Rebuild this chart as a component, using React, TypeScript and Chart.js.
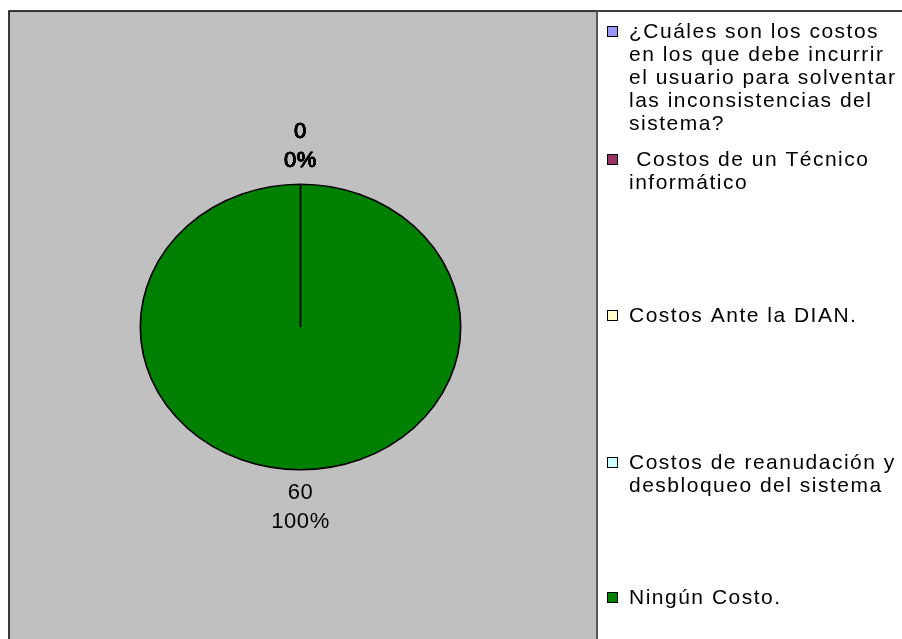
import React, { useEffect, useRef } from "react";
import { Chart, registerables } from "chart.js";

Chart.register(...registerables);

// ---- data ----
const categories: string[][] = [
  ["¿Cuáles son los costos", "en los que debe incurrir", "el usuario para solventar", "las inconsistencias del", "sistema?"],
  [" Costos de un Técnico", "informático"],
  ["Costos Ante la DIAN."],
  ["Costos de reanudación y", "desbloqueo del sistema"],
  ["Ningún Costo."],
];
const values: number[] = [0, 0, 0, 0, 60];
const colors: string[] = ["#9999FF", "#993366", "#FFFFCC", "#CCFFFF", "#008000"];

// ---- layout / style constants ----
const W = 902;
const H = 639;
const FONT = "'Liberation Sans', Arial, sans-serif";
const X_STRETCH = 1.122; // pie drawn as ellipse (wider than tall)
const LEGEND_FIRST_LINE_Y = [31, 159, 315, 462, 597];
const LEGEND_LINE_H = 23;

const framePlugin = {
  id: "frame",
  beforeDraw(chart: any) {
    const ctx = chart.ctx;
    ctx.save();
    ctx.fillStyle = "#ffffff";
    ctx.fillRect(0, 0, W, H);
    ctx.fillStyle = "#C0C0C0";
    ctx.fillRect(9, 11, 588, H);
    ctx.strokeStyle = "#000000";
    ctx.lineWidth = 1.5;
    ctx.beginPath();
    ctx.moveTo(9, H + 2);
    ctx.lineTo(9, 11);
    ctx.lineTo(W + 2, 11);
    ctx.stroke();
    ctx.strokeStyle = "#555555";
    ctx.lineWidth = 2;
    ctx.beginPath();
    ctx.moveTo(597, 11);
    ctx.lineTo(597, H + 2);
    ctx.stroke();
    ctx.restore();
  },
  beforeDatasetsDraw(chart: any) {
    const el = chart.getDatasetMeta(0).data[0];
    const ctx = chart.ctx;
    ctx.save();
    ctx.translate(el.x, el.y);
    ctx.scale(X_STRETCH, 1);
    ctx.translate(-el.x, -el.y);
  },
  afterDatasetsDraw(chart: any) {
    const ctx = chart.ctx;
    ctx.restore();
    const meta = chart.getDatasetMeta(0);
    const data: number[] = chart.data.datasets[0].data;
    const total = data.reduce((a: number, b: number) => a + b, 0);
    ctx.save();
    ctx.fillStyle = "#000000";
    ctx.strokeStyle = "#000000";
    ctx.lineWidth = 0.5;
    (ctx as any).letterSpacing = "0.6px";
    ctx.textAlign = "center";
    ctx.textBaseline = "middle";
    ctx.font = `22px ${FONT}`;
    meta.data.forEach((el: any, i: number) => {
      const mid = (el.startAngle + el.endAngle) / 2;
      const dx = Math.cos(mid);
      const dy = Math.sin(mid);
      const r = el.outerRadius;
      const px = el.x + dx * r * X_STRETCH;
      const py = el.y + dy * r;
      const lines = [String(data[i]), Math.round((data[i] / total) * 100) + "%"];
      const n = lines.length;
      lines.forEach((t, k) => {
        let y;
        if (dy < 0) y = py - 23 - (n - 1 - k) * 29;
        else y = py + 23 + k * 29;
        ctx.fillText(t, px + dx * 20, y);
        // stacked labels of empty slices appear heavier
        if (data[i] === 0) ctx.strokeText(t, px + dx * 20, y);
      });
    });
    ctx.restore();
  },
  afterDraw(chart: any) {
    const ctx = chart.ctx;
    const labels: string[][] = chart.data.labels;
    const bg: string[] = chart.data.datasets[0].backgroundColor;
    ctx.save();
    ctx.font = `21px ${FONT}`;
    (ctx as any).letterSpacing = "1.5px";
    ctx.textAlign = "left";
    ctx.textBaseline = "middle";
    labels.forEach((lines, i) => {
      const y0 = LEGEND_FIRST_LINE_Y[i];
      ctx.fillStyle = bg[i];
      ctx.fillRect(607, y0 - 5, 11, 11);
      ctx.strokeStyle = "#000000";
      ctx.lineWidth = 1;
      ctx.strokeRect(607.5, y0 - 4.5, 10, 10);
      ctx.fillStyle = "#000000";
      lines.forEach((t, k) => {
        ctx.fillText(t, 629, y0 + k * LEGEND_LINE_H + 1);
      });
    });
    ctx.restore();
  },
};

export default function App() {
  const ref = useRef<HTMLCanvasElement | null>(null);
  useEffect(() => {
    document.body.style.margin = "0";
    const canvas = ref.current!;
    const chart = new Chart(canvas, {
      type: "pie",
      data: {
        labels: categories as any,
        datasets: [
          {
            data: values,
            backgroundColor: colors,
            borderColor: "#000000",
            borderWidth: 1.5,
          },
        ],
      },
      options: {
        responsive: false,
        animation: false,
        events: [],
        layout: { padding: { left: 157, right: 458, top: 183, bottom: 168 } },
        plugins: {
          legend: { display: false },
          tooltip: { enabled: false },
          title: { display: false },
        },
      },
      plugins: [framePlugin],
    });
    return () => chart.destroy();
  }, []);
  return (
    <div style={{ width: W, height: H, position: "relative" }}>
      <canvas ref={ref} width={W} height={H} style={{ display: "block", width: W, height: H }} />
    </div>
  );
}
